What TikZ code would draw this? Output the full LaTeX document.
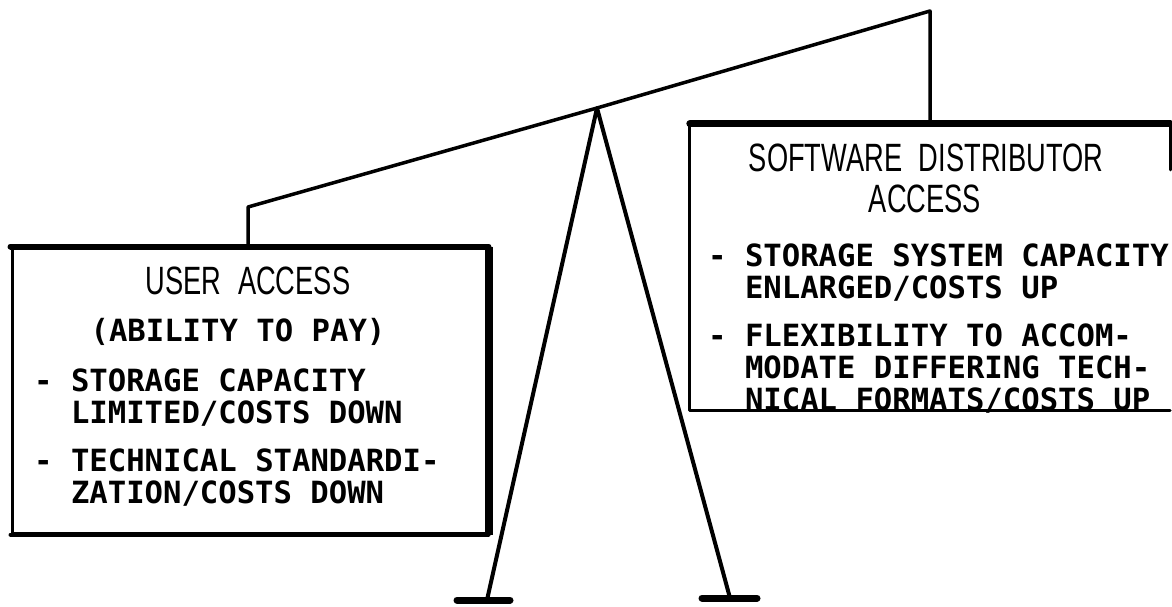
\documentclass[tikz,border=0pt]{standalone}
\usepackage{fontspec}
\newfontfamily\titlefont[FakeStretch=0.69, WordSpace=2.2]{Liberation Sans}
\newfontfamily\typefont{DejaVu Sans Mono}
\begin{document}
\begin{tikzpicture}[x=1pt, y=-1pt, line join=round, line cap=round,
		title/.style={font=\titlefont\fontsize{39.5}{39.5}\selectfont, anchor=base, inner sep=0pt},
		item/.style={font=\typefont\bfseries\fontsize{30.6}{32}\selectfont, anchor=base west, inner sep=0pt},
		box/.style={inner sep=0pt}]
			\useasboundingbox (0,0) rectangle (1172,606);
			\coordinate (lend) at (248,207); \coordinate (apex) at (597,108); \coordinate (rend) at (930,11);
			\coordinate (lfoot) at (487,600); \coordinate (rfoot) at (730,598);
			\node[box, draw, line width=3pt, minimum width=475pt, minimum height=285pt] (user) at (249.5,390.5) {};
			\node[box, minimum width=480pt, minimum height=286pt] (dist) at (930,267) {};
			\draw[line width=6pt] (user.north west)--(user.north east);
			\draw[line width=8pt, line cap=butt] (user.north east)--(user.south east);
			\draw[line width=4pt] (user.south west)--(user.south east);
			\draw[line width=3pt] ([yshift=-46pt]dist.north east)--(dist.north east)--(dist.north west)--(dist.south west)--(dist.south east);
			\draw[line width=7pt] (dist.north west)--(dist.north east);
			\draw[line width=3.5pt] (user.north -| lend)--(lend)--(apex)--(rend)--(dist.north -| rend);
			\draw[line width=4pt] (lfoot)--(apex)--(rfoot);
			\draw[line width=7pt] ([xshift=-30pt]lfoot)--([xshift=23pt]lfoot);
			\draw[line width=7pt] ([xshift=-28pt]rfoot)--([xshift=27pt]rfoot);
			\node[title] (utitle) at (248,294) {USER ACCESS};
			\node[item, anchor=base] (upay) at (238,341) {(ABILITY TO PAY)};
			\node[item] (ustore) at (34,391) {- STORAGE CAPACITY};
			\node[item] (ustore2) at (70.8,423) {LIMITED/COSTS DOWN};
			\node[item] (utech) at (34,471) {- TECHNICAL STANDARDI-};
			\node[item] (utech2) at (70.8,503) {ZATION/COSTS DOWN};
			\node[title] (dtitle) at (926,171) {SOFTWARE DISTRIBUTOR};
			\node[title] (dtitle2) at (925,212) {ACCESS};
			\node[item] (dstore) at (708,266) {- STORAGE SYSTEM CAPACITY};
			\node[item] (dstore2) at (744.8,298) {ENLARGED/COSTS UP};
			\node[item] (dflex) at (708,346) {- FLEXIBILITY TO ACCOM-};
			\node[item] (dflex2) at (744.8,378) {MODATE DIFFERING TECH-};
			\node[item] (dflex3) at (744.8,410) {NICAL FORMATS/COSTS UP};
		\end{tikzpicture}
\end{document}
